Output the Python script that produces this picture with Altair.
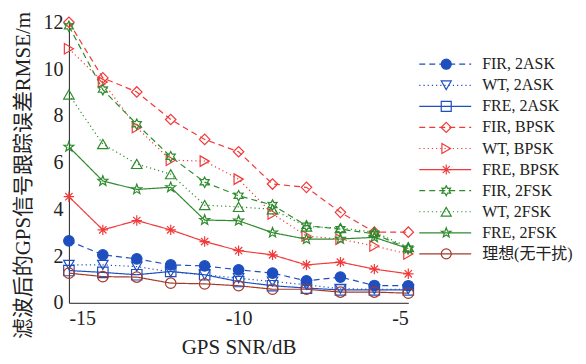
import math
import altair as alt
import pandas as pd

snr = [-15, -14, -13, -12, -11, -10, -9, -8, -7, -6, -5]

series_names = ["FIR, 2ASK", "WT, 2ASK", "FRE, 2ASK",
                "FIR, BPSK", "WT, BPSK", "FRE, BPSK",
                "FIR, 2FSK", "WT, 2FSK", "FRE, 2FSK",
                "理想(无干扰)"]

fir_2ask = [2.65, 2.05, 1.88, 1.62, 1.58, 1.41, 1.27, 0.94, 1.10, 0.74, 0.73]
wt_2ask = [1.62, 1.62, 1.55, 1.32, 1.20, 1.05, 0.91, 0.77, 0.60, 0.58, 0.58]
fre_2ask = [1.38, 1.30, 1.20, 1.34, 1.20, 0.91, 0.73, 0.63, 0.55, 0.55, 0.55]
fir_bpsk = [12.0, 9.62, 9.02, 7.84, 6.99, 6.46, 5.08, 4.94, 3.87, 3.02, 3.02]
wt_bpsk = [10.87, 9.45, 7.50, 6.10, 6.06, 5.29, 3.80, 2.86, 2.72, 2.43, 2.09]
fre_bpsk = [4.54, 3.12, 3.52, 3.12, 2.62, 2.23, 2.05, 1.62, 1.74, 1.44, 1.24]
fir_2fsk = [11.83, 9.12, 7.64, 6.25, 5.16, 4.58, 4.18, 3.30, 3.15, 2.95, 2.32]
wt_2fsk = [8.91, 6.79, 5.94, 5.50, 4.18, 4.10, 4.00, 3.26, 3.20, 3.02, 2.38]
fre_2fsk = [6.67, 5.21, 4.85, 4.94, 3.54, 3.51, 3.00, 2.72, 2.73, 2.80, 2.32]
ideal = [1.27, 1.12, 1.10, 0.84, 0.81, 0.73, 0.58, 0.58, 0.46, 0.46, 0.41]

values = [fir_2ask, wt_2ask, fre_2ask, fir_bpsk, wt_bpsk, fre_bpsk,
          fir_2fsk, wt_2fsk, fre_2fsk, ideal]

BLUE = "#1f4fbf"
RED = "#f23a3a"
GREEN = "#2e8b2e"
BROWN = "#a33a2a"
colors = [BLUE, BLUE, BLUE, RED, RED, RED, GREEN, GREEN, GREEN, BROWN]

DASH = [6, 4]
DOT = [1.2, 3]
SOLID = [1, 0]
dashes = [DASH, DOT, SOLID, DASH, DOT, SOLID, DASH, DOT, SOLID, SOLID]


def star_path(n, r_in):
    pts = []
    for i in range(2 * n):
        r = 1.0 if i % 2 == 0 else r_in
        a = -math.pi / 2 + i * math.pi / n
        pts.append(f"{r * math.cos(a):.3f},{r * math.sin(a):.3f}")
    return "M" + "L".join(pts) + "Z"


ASTERISK = "M-1,0L1,0M0,-1L0,1M-0.7,-0.7L0.7,0.7M-0.7,0.7L0.7,-0.7"
shapes = ["circle", "triangle-down", "square", "diamond", "triangle-right",
          ASTERISK, star_path(6, 0.55), "triangle-up", star_path(5, 0.42), "circle"]
fills = [BLUE] + ["transparent"] * 9

rows = []
for name, vals in zip(series_names, values):
    for s, v in zip(snr, vals):
        rows.append({"series": name, "snr": s, "rmse": v})
df = pd.DataFrame(rows)
legend_df = pd.DataFrame({"series": series_names})

FONT = "'Liberation Serif', 'Times New Roman', 'Noto Sans CJK SC', serif"

color_enc = alt.Color("series:N", scale=alt.Scale(domain=series_names, range=colors), legend=None)
dash_enc = alt.StrokeDash("series:N", scale=alt.Scale(domain=series_names, range=dashes), legend=None)
shape_enc = alt.Shape("series:N", scale=alt.Scale(domain=series_names, range=shapes), legend=None)
fill_enc = alt.Fill("series:N", scale=alt.Scale(domain=series_names, range=fills), legend=None)

x_enc = alt.X("snr:Q", scale=alt.Scale(domain=[-15, -5], nice=False, zero=False),
              axis=alt.Axis(values=[-15, -10, -5], title="GPS SNR/dB", labelExpr="'' + datum.value",
                            labelPadding=6, titlePadding=8))
y_enc = alt.Y("rmse:Q", scale=alt.Scale(domain=[0, 12], nice=False),
              axis=alt.Axis(values=[0, 2, 4, 6, 8, 10, 12], title="滤波后的GPS信号跟踪误差RMSE/m",
                            labelPadding=6, titleX=-35, titleY=153, titleAlign="center",
                            titleBaseline="bottom"))

base = alt.Chart(df)
lines = base.mark_line(strokeWidth=1.2).encode(
    x=x_enc, y=y_enc, color=color_enc, strokeDash=dash_enc, detail="series:N")
points = base.mark_point(filled=False, size=110, strokeWidth=1.2, opacity=1).encode(
    x=x_enc, y=y_enc, color=color_enc, shape=shape_enc, fill=fill_enc)
main = alt.layer(lines, points)

ly = alt.Y("series:N", scale=alt.Scale(type="point", domain=series_names, range=[42, 232], padding=0),
           axis=None)
lbase = alt.Chart(legend_df)
leg_rule = lbase.mark_rule(strokeWidth=1.2).encode(
    y=ly, x=alt.value(351), x2=alt.value(403), color=color_enc, strokeDash=dash_enc)
leg_pts = lbase.mark_point(filled=False, size=100, strokeWidth=1.2, opacity=1).encode(
    y=ly, x=alt.value(378), color=color_enc, shape=shape_enc, fill=fill_enc)
leg_txt = lbase.mark_text(align="left", baseline="middle", font=FONT, fontSize=16, color="#222").encode(
    y=ly, x=alt.value(414), text="series:N")
legend = alt.layer(leg_rule, leg_pts, leg_txt)

chart = alt.layer(main, legend).resolve_scale(y="independent").properties(
    width=340, height=281,
    autosize=alt.AutoSizeParams(type="none"),
    padding={"left": 61, "top": 14, "right": 170, "bottom": 61},
).configure_view(stroke=None).configure_axis(
    grid=False, domainColor="#222", domainWidth=1, ticks=False, tickSize=0,
    labelFont=FONT, labelFontSize=20, labelColor="#222",
    titleFont=FONT, titleFontSize=21, titleFontWeight="normal", titleColor="#222",
)

chart.save("out.html", embed_options={"renderer": "svg", "actions": False})
